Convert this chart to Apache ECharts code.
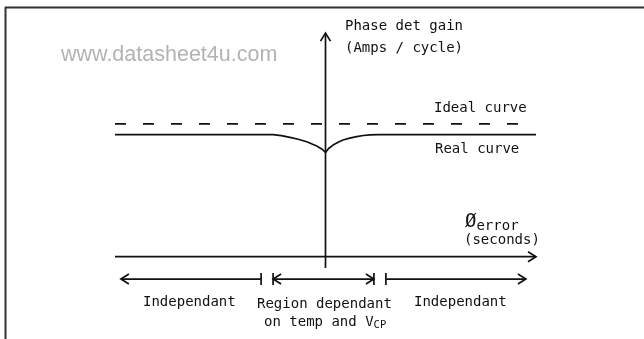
<!DOCTYPE html>
<html>
<head>
<meta charset="utf-8">
<script src="https://cdn.jsdelivr.net/npm/echarts@6/dist/echarts.min.js"></script>
<style>
  html, body { margin: 0; padding: 0; background: #fff; }
  #chart { width: 644px; height: 339px; }
</style>
</head>
<body>
<div id="chart"></div>
<script>
// phase error (x, -1..1) against detector gain (y, ideal = 1)
var idealCurve = [[-1, 1], [0.97, 1]];
var realCurve = [
    [-1, 0.92], [-0.249, 0.92], [-0.21, 0.912], [-0.169, 0.899], [-0.13, 0.885],
    [-0.089, 0.866], [-0.042, 0.834], [-0.018, 0.812], [0, 0.786],
    [0.015, 0.815], [0.036, 0.841], [0.06, 0.862], [0.083, 0.879], [0.115, 0.893],
    [0.148, 0.904], [0.18, 0.913], [0.211, 0.918], [0.25, 0.92], [1, 0.92]
];
// arrows: x1, y1, x2, y2 plus what sits at each end
var axisArrows = [[-1, 0, 1, 0], [0, -0.085, 0, 1.684]];
var axisCaps = [['none', 'chevron'], ['none', 'chevron']];
var regionArrows = [
    [-0.972, -0.168, -0.306, -0.168],
    [-0.249, -0.168, 0.230, -0.168],
    [0.287, -0.168, 0.952, -0.168]
];
var regionCaps = [['chevron', 'tick'], ['both', 'both'], ['tick', 'chevron']];

var FONT = 'DejaVu Sans Mono';
var INK = '#111';

function arrowRenderer(caps) {
    return function (params, api) {
        var p1 = api.coord([api.value(0), api.value(1)]);
        var p2 = api.coord([api.value(2), api.value(3)]);
        var dx = p2[0] - p1[0], dy = p2[1] - p1[1];
        var len = Math.sqrt(dx * dx + dy * dy);
        var ux = dx / len, uy = dy / len;
        var nx = -uy, ny = ux;
        var style = {stroke: INK, lineWidth: 1.7, fill: null};
        var kids = [{type: 'line', shape: {x1: p1[0], y1: p1[1], x2: p2[0], y2: p2[1]}, style: style}];
        var c = caps[params.dataIndex];
        // s = +1 end points forward, s = -1 start points backward
        function addCap(kind, p, s) {
            if (kind === 'chevron' || kind === 'both') {
                kids.push({type: 'polyline', shape: {points: [
                    [p[0] - s * ux * 8 + nx * 5, p[1] - s * uy * 8 + ny * 5],
                    [p[0], p[1]],
                    [p[0] - s * ux * 8 - nx * 5, p[1] - s * uy * 8 - ny * 5]
                ]}, style: style});
            }
            if (kind === 'tick' || kind === 'both') {
                kids.push({type: 'line', shape: {
                    x1: p[0] + nx * 6, y1: p[1] + ny * 6, x2: p[0] - nx * 6, y2: p[1] - ny * 6
                }, style: style});
            }
        }
        addCap(c[0], p1, -1);
        addCap(c[1], p2, 1);
        return {type: 'group', children: kids};
    };
}

function txt(text, x, y, extra) {
    var o = {
        type: 'text', left: x, top: y,
        style: {text: text, font: '14px "' + FONT + '"', fill: INK}
    };
    if (extra) { for (var k in extra) o.style[k] = extra[k]; }
    return o;
}

var myChart = echarts.init(document.getElementById('chart'));
var option = {
    animation: false,
    backgroundColor: '#fff',
    grid: {left: 115, right: 108, top: 31, bottom: 69},
    xAxis: {type: 'value', min: -1, max: 1, show: false},
    yAxis: {type: 'value', min: -0.1, max: 1.7, show: false},
    series: [
        {
            name: 'Ideal curve', type: 'line', data: idealCurve, symbol: 'none',
            lineStyle: {color: INK, width: 1.7, type: [11, 17]}
        },
        {
            name: 'Real curve', type: 'line', data: realCurve, symbol: 'none',
            lineStyle: {color: INK, width: 1.7}
        },
        {
            type: 'custom', data: axisArrows, clip: false,
            encode: {x: [0, 2], y: [1, 3]},
            renderItem: arrowRenderer(axisCaps)
        },
        {
            type: 'custom', data: regionArrows, clip: false,
            encode: {x: [0, 2], y: [1, 3]},
            renderItem: arrowRenderer(regionCaps)
        }
    ],
    graphic: [
        {type: 'line', shape: {x1: 5, y1: 7.5, x2: 644, y2: 7.5}, style: {stroke: '#333', lineWidth: 2}},
        {type: 'line', shape: {x1: 5.5, y1: 7, x2: 5.5, y2: 339}, style: {stroke: '#333', lineWidth: 2}},
        {
            type: 'text', left: 61, top: 44,
            style: {text: 'www.datasheet4u.com', font: '21.5px "Liberation Sans"', fill: '#b3b3b3'}
        },
        txt('Phase det gain', 345, 19),
        txt('(Amps / cycle)', 345, 41),
        txt('Ideal curve', 434, 101),
        txt('Real curve', 435, 142),
        {
            type: 'text', left: 465, top: 213,
            style: {
                text: '{big|Ø}{sub|error}',
                rich: {
                    big: {font: '19px "' + FONT + '"', fill: INK},
                    sub: {font: '14px "' + FONT + '"', fill: INK, padding: [8, 0, 0, 0]}
                }
            }
        },
        txt('(seconds)', 464, 233),
        txt('Independant', 143, 295),
        txt('Region dependant', 257, 297),
        {
            type: 'text', left: 264, top: 315,
            style: {
                text: 'on temp and V{sub|CP}',
                font: '14px "' + FONT + '"', fill: INK,
                rich: {sub: {font: '10.5px "' + FONT + '"', fill: INK, padding: [6, 0, 0, 0]}}
            }
        },
        txt('Independant', 414, 295)
    ]
};
myChart.setOption(option);
</script>
</body>
</html>
